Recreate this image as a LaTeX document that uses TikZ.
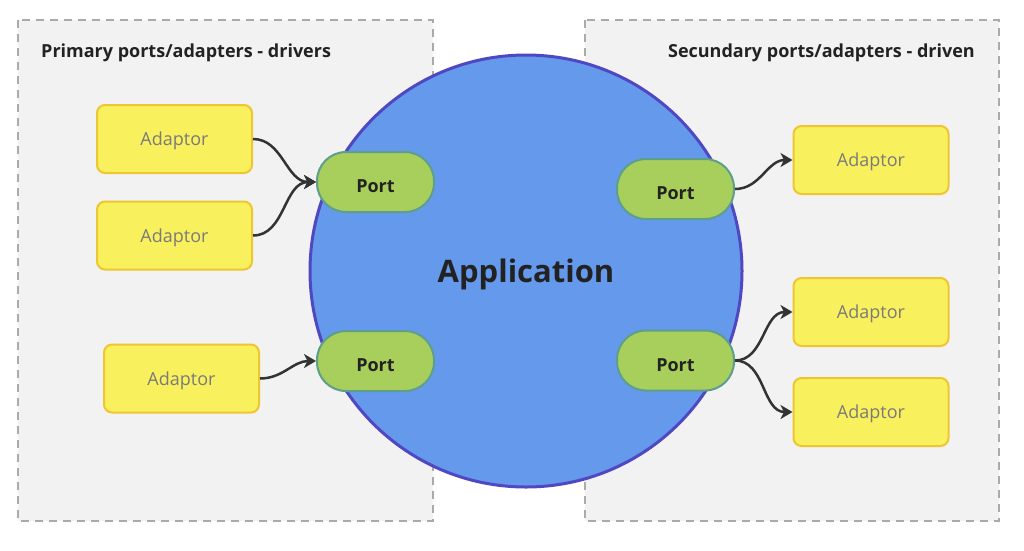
\documentclass[tikz,border=0pt]{standalone}
\usepackage{fontspec}
\setmainfont{Open Sans}
\usetikzlibrary{arrows.meta}
\definecolor{zonefill}{HTML}{F2F2F2}
\definecolor{zonedraw}{HTML}{AAAAAA}
\definecolor{adfill}{HTML}{F9F05D}
\definecolor{addraw}{HTML}{EEC632}
\definecolor{adtext}{HTML}{7A7A7A}
\definecolor{portfill}{HTML}{A8CE5B}
\definecolor{portdraw}{HTML}{5E9E8C}
\definecolor{appfill}{HTML}{6499EB}
\definecolor{appdraw}{HTML}{5048C2}
\definecolor{ink}{HTML}{222222}
\definecolor{wire}{HTML}{333333}
\tikzset{
  zone/.style={draw=zonedraw, fill=zonefill, line width=2pt, dash pattern=on 8pt off 6pt},
  adbox/.style={draw=addraw, fill=adfill, line width=2pt, rounded corners=8pt,
    minimum width=155pt, minimum height=68pt, inner sep=0pt,
    text height=13pt, text depth=0pt,
    font=\fontsize{18}{21}\selectfont, text=adtext},
  portbox/.style={draw=portdraw, fill=portfill, line width=2pt, rounded corners=29pt,
    minimum width=117pt, minimum height=60pt, inner sep=0pt,
    text height=21pt, text depth=0pt,
    font=\bfseries\fontsize{18}{21}\selectfont, text=ink},
  ztitle/.style={font=\bfseries\fontsize{18}{21}\selectfont, text=ink, inner sep=0pt},
  flow/.style={draw=wire, line width=2.5pt, -{Stealth[length=12pt,width=14pt,inset=3.5pt]}}
}
\begin{document}
\begin{tikzpicture}[x=1pt,y=-1pt]
\useasboundingbox (0,0) rectangle (1024,550);
\fill[white] (0,0) rectangle (1024,550);
% zones
\path[zone] (18,20) rectangle (433,521);
\path[zone] (585,20) rectangle (999,521);
\node[ztitle, anchor=base west] (tl) at (41,57) {Primary ports/adapters - drivers};
\node[ztitle, anchor=base east] (tr) at (975,57) {Secundary ports/adapters - driven};
% application
\node[circle, draw=appdraw, fill=appfill, line width=3pt, minimum size=432pt, inner sep=0pt,
  text height=22pt, text depth=0pt,
  font=\bfseries\fontsize{31}{36}\selectfont, text=ink] (app) at (526,271) {Application};
% ports
\node[portbox] (pl1) at (375.5,182) {Port};
\node[portbox] (pl2) at (375.5,361) {Port};
\node[portbox] (pr1) at (675.5,189) {Port};
\node[portbox] (pr2) at (675.5,360.5) {Port};
% adaptors
\node[adbox] (al1) at (174.5,139) {Adaptor};
\node[adbox] (al2) at (174.5,235.5) {Adaptor};
\node[adbox] (al3) at (181.5,378.5) {Adaptor};
\node[adbox] (ar1) at (871,160) {Adaptor};
\node[adbox] (ar2) at (871,312) {Adaptor};
\node[adbox] (ar3) at (871,412) {Adaptor};
% flows
\draw[flow] (al1.east) to[out=0,in=180] (pl1.west);
\draw[flow] (al2.east) to[out=0,in=180] (pl1.west);
\draw[flow] (al3.east) to[out=0,in=180] (pl2.west);
\draw[flow] (pr1.east) to[out=0,in=180] (ar1.west);
\draw[flow] (pr2.east) to[out=0,in=180] (ar2.west);
\draw[flow] (pr2.east) to[out=0,in=180] (ar3.west);
\end{tikzpicture}
\end{document}
